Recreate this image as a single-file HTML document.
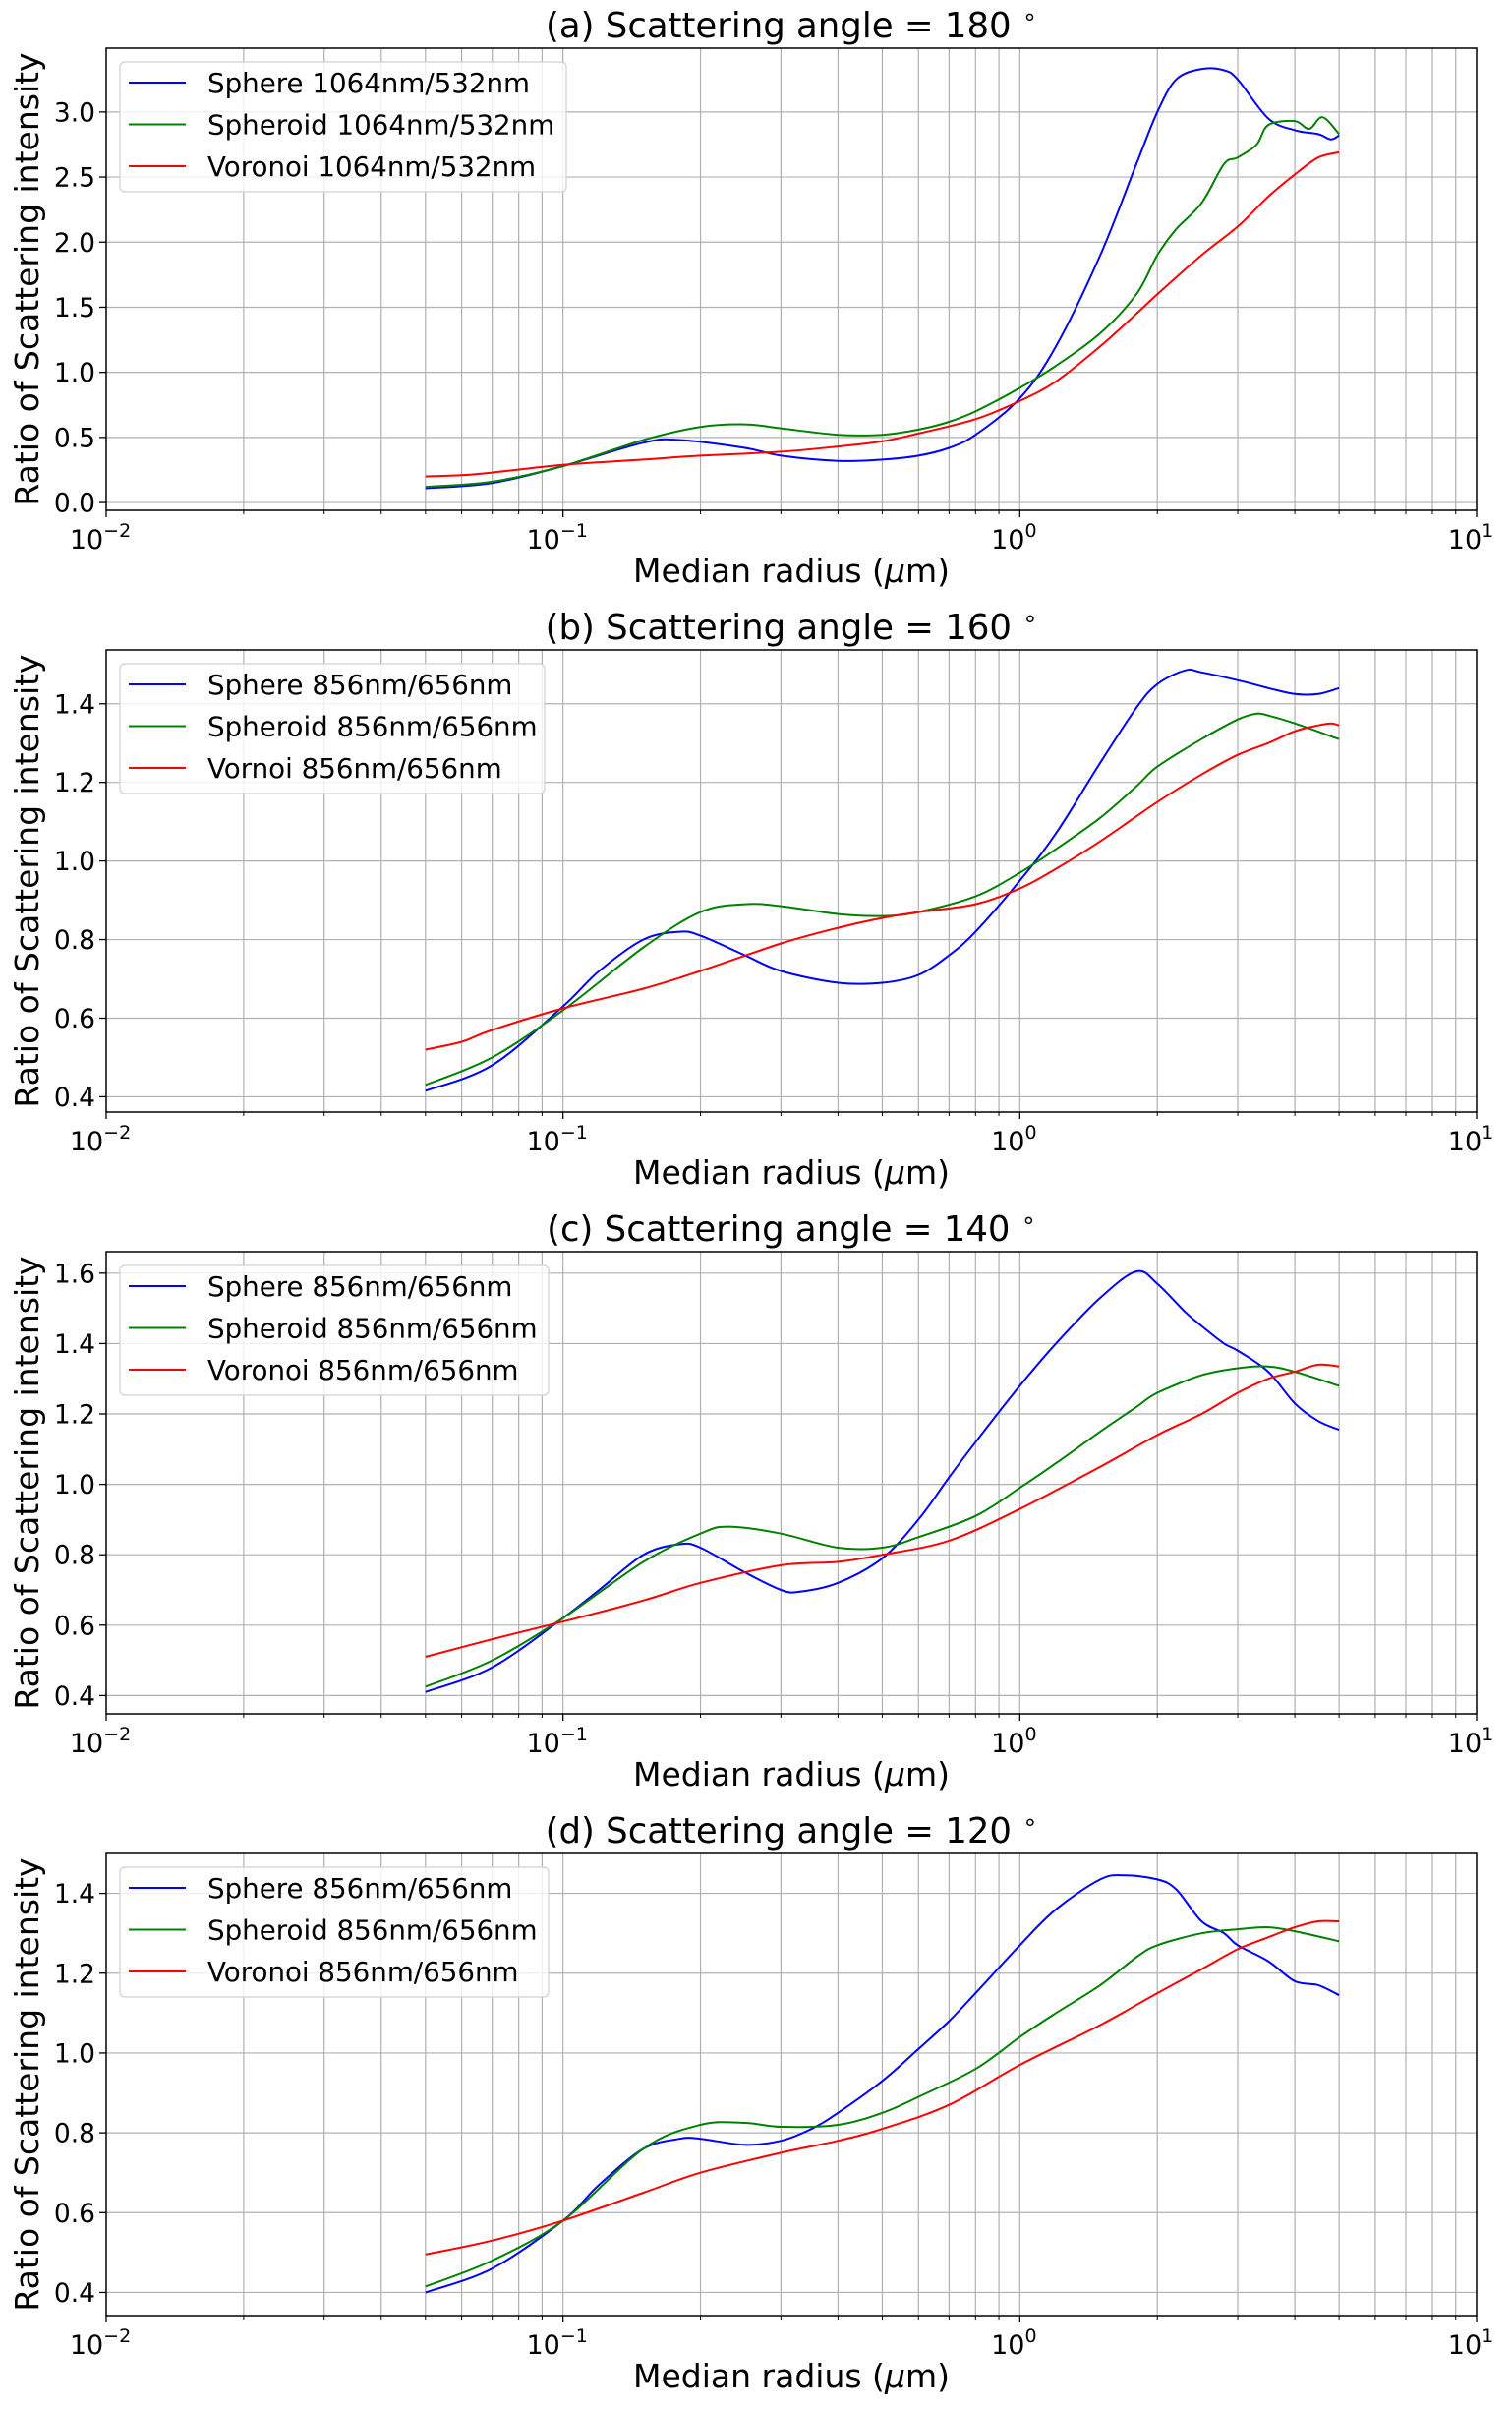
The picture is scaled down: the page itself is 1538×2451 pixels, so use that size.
<!DOCTYPE html>
<html><head><meta charset="utf-8"><style>
body{margin:0;background:#fff;}
svg{display:block;font-family:"DejaVu Sans","Liberation Sans",sans-serif;}
</style></head><body>
<svg id="fig" width="1538" height="2451" viewBox="0 0 1538 2451" xmlns="http://www.w3.org/2000/svg"></svg>
<script>
const xA=[0.05,0.07,0.1,0.15,0.18,0.25,0.3,0.4,0.5,0.6,0.7,0.8,1.0,1.2,1.5,1.8,2.0,2.2,2.5,2.8,3.0,3.5,4.0,4.5,4.8,5.0];
const aSphere=[0.11,0.15,0.28,0.46,0.48,0.42,0.36,0.32,0.33,0.36,0.42,0.52,0.8,1.2,1.9,2.6,3.0,3.25,3.33,3.32,3.25,2.95,2.86,2.83,2.79,2.82];
const xAS=[0.05,0.07,0.1,0.15,0.2,0.25,0.3,0.4,0.5,0.6,0.7,0.8,1.0,1.2,1.5,1.8,2.0,2.2,2.5,2.8,3.0,3.3,3.5,4.0,4.3,4.6,5.0];
const aSpheroid=[0.12,0.16,0.28,0.48,0.58,0.6,0.57,0.52,0.52,0.56,0.62,0.7,0.88,1.05,1.3,1.6,1.9,2.1,2.3,2.6,2.65,2.75,2.9,2.93,2.87,2.96,2.83];
const xAV=[0.05,0.06,0.07,0.1,0.15,0.2,0.3,0.4,0.5,0.6,0.8,1.0,1.2,1.5,1.8,2.0,2.5,3.0,3.5,4.0,4.5,5.0];
const aVoronoi=[0.2,0.21,0.23,0.29,0.33,0.36,0.39,0.43,0.47,0.53,0.64,0.78,0.93,1.2,1.45,1.6,1.9,2.12,2.35,2.52,2.65,2.69];

const xBS=[0.05,0.07,0.1,0.12,0.15,0.18,0.2,0.25,0.3,0.4,0.5,0.6,0.7,0.8,1.0,1.2,1.5,1.8,2.0,2.3,2.5,3.0,3.5,4.0,4.5,5.0];
const bSphere=[0.415,0.48,0.63,0.72,0.8,0.82,0.81,0.76,0.72,0.69,0.69,0.71,0.76,0.82,0.95,1.07,1.25,1.39,1.45,1.485,1.48,1.46,1.44,1.425,1.425,1.44];
const xBP=[0.05,0.07,0.1,0.15,0.2,0.25,0.3,0.4,0.5,0.6,0.8,1.0,1.2,1.5,1.8,2.0,2.5,3.0,3.3,3.5,4.0,5.0];
const bSpheroid=[0.43,0.5,0.62,0.78,0.87,0.89,0.885,0.865,0.86,0.87,0.91,0.97,1.03,1.11,1.19,1.24,1.31,1.36,1.375,1.37,1.35,1.31];
const xBV=[0.05,0.06,0.07,0.1,0.15,0.2,0.3,0.4,0.5,0.6,0.8,1.0,1.2,1.5,2.0,2.5,3.0,3.5,4.0,4.5,4.8,5.0];
const bVoronoi=[0.52,0.54,0.57,0.625,0.675,0.72,0.79,0.83,0.855,0.87,0.89,0.93,0.98,1.05,1.15,1.22,1.27,1.3,1.33,1.345,1.35,1.345];

const xCS=[0.05,0.07,0.1,0.12,0.15,0.18,0.2,0.25,0.3,0.33,0.4,0.5,0.6,0.7,0.8,1.0,1.2,1.5,1.8,2.0,2.3,2.5,2.8,3.0,3.5,4.0,4.5,5.0];
const cSphere=[0.41,0.48,0.62,0.7,0.8,0.83,0.82,0.75,0.7,0.695,0.72,0.79,0.9,1.02,1.12,1.28,1.4,1.53,1.605,1.57,1.49,1.45,1.4,1.38,1.32,1.23,1.18,1.155];
const xCP=[0.05,0.07,0.1,0.15,0.2,0.23,0.3,0.4,0.5,0.6,0.8,1.0,1.2,1.5,1.8,2.0,2.5,3.0,3.5,4.0,5.0];
const cSpheroid=[0.425,0.5,0.62,0.78,0.86,0.88,0.86,0.82,0.82,0.85,0.91,0.99,1.06,1.15,1.22,1.26,1.31,1.33,1.335,1.32,1.28];
const xCV=[0.05,0.07,0.1,0.15,0.2,0.3,0.4,0.5,0.7,1.0,1.5,2.0,2.5,3.0,3.5,4.0,4.5,5.0];
const cVoronoi=[0.51,0.56,0.61,0.67,0.72,0.77,0.78,0.8,0.84,0.93,1.05,1.14,1.2,1.26,1.3,1.32,1.34,1.335];

const xDS=[0.05,0.07,0.1,0.12,0.15,0.18,0.2,0.25,0.3,0.35,0.4,0.5,0.6,0.7,0.8,1.0,1.2,1.5,1.7,2.0,2.2,2.5,2.8,3.0,3.5,4.0,4.5,5.0];
const dSphere=[0.4,0.46,0.58,0.67,0.76,0.785,0.785,0.77,0.78,0.81,0.85,0.93,1.01,1.08,1.15,1.27,1.36,1.435,1.445,1.435,1.41,1.33,1.3,1.27,1.23,1.18,1.17,1.145];
const xDP=[0.05,0.07,0.1,0.15,0.2,0.25,0.3,0.4,0.5,0.6,0.8,1.0,1.2,1.5,1.8,2.0,2.5,3.0,3.5,4.0,5.0];
const dSpheroid=[0.415,0.48,0.58,0.76,0.82,0.825,0.815,0.82,0.85,0.89,0.96,1.04,1.1,1.17,1.24,1.27,1.3,1.31,1.315,1.305,1.28];
const xDV=[0.05,0.07,0.1,0.15,0.2,0.3,0.4,0.5,0.7,1.0,1.5,2.0,2.5,3.0,3.5,4.0,4.5,5.0];
const dVoronoi=[0.495,0.53,0.58,0.65,0.7,0.75,0.78,0.81,0.87,0.97,1.07,1.15,1.21,1.26,1.29,1.315,1.33,1.33];

const titles=["(a) Scattering angle = 180","(b) Scattering angle = 160","(c) Scattering angle = 140","(d) Scattering angle = 120"];
const yTicksA=["0.0","0.5","1.0","1.5","2.0","2.5","3.0"];
const yTicksB=["0.4","0.6","0.8","1.0","1.2","1.4"];
const yTicksC=["0.4","0.6","0.8","1.0","1.2","1.4","1.6"];
const yTicksD=["0.4","0.6","0.8","1.0","1.2","1.4"];
const legA=["Sphere 1064nm/532nm","Spheroid 1064nm/532nm","Voronoi 1064nm/532nm"];
const legB=["Sphere 856nm/656nm","Spheroid 856nm/656nm","Vornoi 856nm/656nm"];
const legC=["Sphere 856nm/656nm","Spheroid 856nm/656nm","Voronoi 856nm/656nm"];

const NS="http://www.w3.org/2000/svg";
const svg=document.getElementById('fig');
function mk(tag,attrs,parent,text){const e=document.createElementNS(NS,tag);for(const k in attrs)e.setAttribute(k,attrs[k]);if(text!==undefined)e.textContent=text;(parent||svg).appendChild(e);return e;}

const L=108,R=1502,H=470;
const panels=[
 {top:49,ymin:-0.06,ymax:3.49,ticks:yTicksA,leg:legA,legW:454,series:[[xA,aSphere],[xAS,aSpheroid],[xAV,aVoronoi]]},
 {top:661,ymin:0.361,ymax:1.537,ticks:yTicksB,leg:legB,legW:432,series:[[xBS,bSphere],[xBP,bSpheroid],[xBV,bVoronoi]]},
 {top:1273,ymin:0.348,ymax:1.661,ticks:yTicksC,leg:legC,legW:436,series:[[xCS,cSphere],[xCP,cSpheroid],[xCV,cVoronoi]]},
 {top:1885,ymin:0.342,ymax:1.5,ticks:yTicksD,leg:legC,legW:436,series:[[xDS,dSphere],[xDP,dSpheroid],[xDV,dVoronoi]]}
];
const colors=["#0000ff","#008000","#ff0000"];
const sNames=["sphere","spheroid","voronoi"];
function xs(v){return L+(Math.log10(v)+2)/3*(R-L);}
function smooth(P){
 let d='M'+P[0][0].toFixed(1)+','+P[0][1].toFixed(1);
 for(let i=0;i<P.length-1;i++){
  const p0=P[Math.max(0,i-1)],p1=P[i],p2=P[i+1],p3=P[Math.min(P.length-1,i+2)];
  const c1=[p1[0]+(p2[0]-p0[0])/6,p1[1]+(p2[1]-p0[1])/6];
  const c2=[p2[0]-(p3[0]-p1[0])/6,p2[1]-(p3[1]-p1[1])/6];
  d+=' C'+c1[0].toFixed(1)+','+c1[1].toFixed(1)+' '+c2[0].toFixed(1)+','+c2[1].toFixed(1)+' '+p2[0].toFixed(1)+','+p2[1].toFixed(1);
 }
 return d;
}

panels.forEach((p,pi)=>{
 const T=p.top,B=p.top+H;
 const ys=v=>B-(v-p.ymin)/(p.ymax-p.ymin)*H;
 const g=mk('g',{});
 
 
 for(let d=-2;d<1;d++){for(let m=1;m<10;m++){const v=m*Math.pow(10,d);const x=xs(v);
   if(m>1||d>-2){const ln=mk('line',{x1:x,x2:x,y1:T,y2:B,stroke:'#b0b0b0','stroke-width':1.2},g);}
   mk('line',{x1:x,x2:x,y1:B,y2:B+(m==1?7:4),stroke:'#000','stroke-width':m==1?1.3:1},g);
 }}
 mk('line',{x1:xs(10),x2:xs(10),y1:B,y2:B+7,stroke:'#000','stroke-width':1.3},g);
 p.ticks.forEach(t=>{const y=ys(parseFloat(t));
   const ln=mk('line',{x1:L,x2:R,y1:y,y2:y,stroke:'#b0b0b0','stroke-width':1.2},g);
   
   mk('line',{x1:L-7,x2:L,y1:y,y2:y,stroke:'#000','stroke-width':1.3},g);
   const tx=mk('text',{x:L-11,y:y+9.5,'text-anchor':'end','font-size':26.5},g,t);
   
 });
 [-2,-1,0,1].forEach(e=>{const x=xs(Math.pow(10,e));
   const tx=mk('text',{x:x-6,y:B+39,'text-anchor':'middle','font-size':27},g);
   
   mk('tspan',{},tx,'10');mk('tspan',{dy:-12,'font-size':19},tx,(e<0?'\u2212':'')+Math.abs(e));
 });
 p.series.forEach((s,si)=>{
   const P=s[0].map((xv,i)=>[xs(xv),ys(s[1][i])]);
   const pl=mk('path',{d:smooth(P),fill:'none',stroke:colors[si],'stroke-width':2,'stroke-linejoin':'round'},g);
   
   
 });
 const fr=mk('rect',{x:L,y:T,width:R-L,height:H,fill:'none',stroke:'#000','stroke-width':1.5},g);
 
 const lg=mk('g',{},g);
 
 
 mk('rect',{x:122,y:T+14,width:p.legW,height:132,rx:5,fill:'rgba(255,255,255,0.8)',stroke:'#d0d0d0','stroke-width':1.2},lg);
 p.leg.forEach((t,i)=>{const y=T+35+i*42.5;
   mk('line',{x1:131,x2:189,y1:y,y2:y,stroke:colors[i],'stroke-width':2},lg);
   const tx=mk('text',{x:211,y:y+10,'font-size':27.7},lg,t);
   
 });
 const ti=mk('text',{x:(L+R)/2,y:T-11,'text-anchor':'middle','font-size':35.5},g);
 
 mk('tspan',{},ti,titles[pi]+' ');mk('tspan',{dy:-13,'font-size':24},ti,'\u2218');
 const xl=mk('text',{x:(L+R)/2,y:B+73,'text-anchor':'middle','font-size':33},g);
 
 mk('tspan',{},xl,'Median radius (');mk('tspan',{'font-style':'italic'},xl,'\u03bc');mk('tspan',{},xl,'m)');
 const yl=mk('text',{x:0,y:0,'text-anchor':'middle','font-size':33,transform:'translate(39,'+(T+H/2)+') rotate(-90)'},g,'Ratio of Scattering intensity');
 
});
</script>
</body></html>
